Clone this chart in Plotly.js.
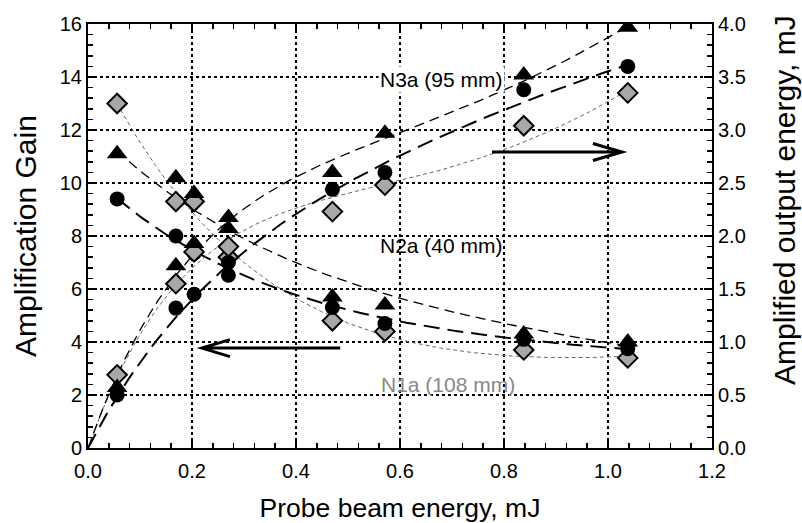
<!DOCTYPE html>
<html>
<head>
<meta charset="utf-8">
<script src="https://cdn.plot.ly/plotly-3.0.1.min.js"></script>
<style>html,body{margin:0;padding:0;background:#fff}#chart{width:802px;height:523px}</style>
</head>
<body>
<div id="chart"></div>
<script>
// Probe beam energy (mJ)
const probeEnergy = [0.056, 0.169, 0.204, 0.27, 0.47, 0.571, 0.838, 1.038];

// Amplification gain (left axis)
const gainN3a = [11.1, 10.2, 9.6, 8.7, 5.7, 5.4, 4.3, 4.0];
const gainN2a = [9.4, 8.0, 7.35, 7.0, 5.3, 4.7, 4.1, 3.75];
const gainN1a = [13.0, 9.3, 9.3, 7.2, 4.8, 4.4, 3.7, 3.4];

// Amplified output energy, mJ (right axis)
const outN3a = [0.57, 1.72, 1.93, 2.07, 2.6, 2.97, 3.52, 3.97];
const outN2a = [0.5, 1.32, 1.45, 1.63, 2.44, 2.6, 3.38, 3.6];
const outN1a = [0.69, 1.55, 1.85, 1.9, 2.23, 2.48, 3.04, 3.35];

// Series labels
const seriesLabels = ["N3a (95 mm)", "N2a (40 mm)", "N1a (108 mm)"];

const FONT = "Liberation Sans, Arial, sans-serif";

const styles = {
  N3a: {dash: "10px,6px", width: 1.3, color: "#000", marker: {symbol: "triangle-up", size: 18, color: "#000"}},
  N2a: {dash: "16px,8px", width: 2, color: "#000", marker: {symbol: "circle", size: 15, color: "#000"}},
  N1a: {dash: "4px,3px", width: 1, color: "#666", marker: {symbol: "diamond", size: 15, color: "#a8a8a8", line: {color: "#000", width: 2}}}
};

// smooth weighted least-squares trend curves through the read points
const TAU = 0.35;
const gainBasis = [t => 1, t => Math.exp(-t / TAU), t => t];
const outBasis = [t => t, t => t * Math.exp(-t / TAU), t => t * t];
const gainWeights = [8, 1, 1, 1, 1, 1, 1, 3];
const outWeights = [1, 1, 1, 1, 1, 1, 1, 3];

function lsq(x, y, w, basis) {
  const n = basis.length;
  const A = [], b = [];
  for (let i = 0; i < n; i++) { A.push(new Array(n).fill(0)); b.push(0); }
  for (let k = 0; k < x.length; k++) {
    for (let i = 0; i < n; i++) {
      const fi = basis[i](x[k]);
      b[i] += w[k] * fi * y[k];
      for (let j = 0; j < n; j++) A[i][j] += w[k] * fi * basis[j](x[k]);
    }
  }
  for (let i = 0; i < n; i++) {
    let m = i;
    for (let r = i + 1; r < n; r++) if (Math.abs(A[r][i]) > Math.abs(A[m][i])) m = r;
    [A[i], A[m]] = [A[m], A[i]]; [b[i], b[m]] = [b[m], b[i]];
    for (let r = i + 1; r < n; r++) {
      const f = A[r][i] / A[i][i];
      for (let c = i; c < n; c++) A[r][c] -= f * A[i][c];
      b[r] -= f * b[i];
    }
  }
  const coef = new Array(n).fill(0);
  for (let i = n - 1; i >= 0; i--) {
    let s = b[i];
    for (let c = i + 1; c < n; c++) s -= A[i][c] * coef[c];
    coef[i] = s / A[i][i];
  }
  return t => basis.reduce((acc, fn, i) => acc + coef[i] * fn(t), 0);
}

function fitTrace(x, y, st, axis, isOutput) {
  const f = isOutput ? lsq(x, y, outWeights, outBasis) : lsq(x, y, gainWeights, gainBasis);
  const x0 = isOutput ? 0 : x[0], x1 = x[x.length - 1];
  const xs = [], ys = [];
  for (let i = 0; i <= 120; i++) { const t = x0 + (x1 - x0) * i / 120; xs.push(t); ys.push(f(t)); }
  return {x: xs, y: ys, type: "scatter", mode: "lines", yaxis: axis,
    line: {dash: st.dash, width: st.width, color: st.color},
    hoverinfo: "skip", showlegend: false};
}
function markerTrace(x, y, st, axis) {
  return {x: x, y: y, type: "scatter", mode: "markers", yaxis: axis,
    marker: st.marker, showlegend: false};
}

const traces = [
  fitTrace(probeEnergy, gainN1a, styles.N1a, "y", false),
  fitTrace(probeEnergy, outN1a, styles.N1a, "y2", true),
  fitTrace(probeEnergy, gainN3a, styles.N3a, "y", false),
  fitTrace(probeEnergy, outN3a, styles.N3a, "y2", true),
  fitTrace(probeEnergy, gainN2a, styles.N2a, "y", false),
  fitTrace(probeEnergy, outN2a, styles.N2a, "y2", true),
  markerTrace(probeEnergy, gainN1a, styles.N1a, "y"),
  markerTrace(probeEnergy, outN1a, styles.N1a, "y2"),
  markerTrace(probeEnergy, gainN3a, styles.N3a, "y"),
  markerTrace(probeEnergy, outN3a, styles.N3a, "y2"),
  markerTrace(probeEnergy, gainN2a, styles.N2a, "y"),
  markerTrace(probeEnergy, outN2a, styles.N2a, "y2")
];

// arrows: [tailX, tipX, headBackX, y (gain units)]
const arrowRight = [0.777, 1.027, 0.971, 11.17];
const arrowLeft = [0.485, 0.219, 0.273, 3.77];
function arrowPath(a) {
  const h = 0.32;
  return "M" + a[0] + "," + a[3] + " L" + a[1] + "," + a[3] +
    " M" + a[2] + "," + (a[3] + h) + " L" + a[1] + "," + a[3] + " L" + a[2] + "," + (a[3] - h);
}

const axisCommon = {
  showline: true, linecolor: "#000", linewidth: 2,
  ticks: "inside", ticklen: 8, tickwidth: 1.5, tickcolor: "#000",
  zeroline: false,
  tickfont: {family: FONT, size: 20, color: "#000"}
};

const layout = {
  width: 802, height: 523,
  margin: {l: 88, r: 90, t: 24, b: 75},
  paper_bgcolor: "#fff", plot_bgcolor: "#fff",
  showlegend: false,
  font: {family: FONT, color: "#000"},
  xaxis: Object.assign({}, axisCommon, {
    range: [0, 1.2], dtick: 0.2, tick0: 0, tickformat: ".1f", mirror: "ticks",
    ticklabelstandoff: 4,
    showgrid: true, gridcolor: "#000", griddash: "dot", gridwidth: 1.5,
    minor: {dtick: 0.04, ticks: "inside", ticklen: 5, tickcolor: "#000", showgrid: false},
    title: {text: "Probe beam energy, mJ", font: {family: FONT, size: 26.5}, standoff: 17}
  }),
  yaxis: Object.assign({}, axisCommon, {
    range: [0, 16], dtick: 2, tick0: 0, mirror: true,
    showgrid: true, gridcolor: "#000", griddash: "dot", gridwidth: 1.5,
    minor: {dtick: 0.4, ticks: "inside", ticklen: 5, tickcolor: "#000", showgrid: false},
    title: {text: "Amplification Gain", font: {family: FONT, size: 30}, standoff: 14}
  }),
  yaxis2: Object.assign({}, axisCommon, {
    overlaying: "y", side: "right", anchor: "x",
    range: [0, 4], dtick: 0.5, tick0: 0, tickformat: ".1f",
    showgrid: false,
    minor: {dtick: 0.1, ticks: "inside", ticklen: 5, tickcolor: "#000", showgrid: false}
  }),
  annotations: [
    {x: 1.117, y: 0.585, xref: "paper", yref: "paper", text: "Amplified output energy, mJ",
     textangle: -90, showarrow: false, xanchor: "center", yanchor: "middle",
     font: {family: FONT, size: 30, color: "#000"}},
    {x: 0.679, y: 13.9, xref: "x", yref: "y", text: seriesLabels[0], showarrow: false,
     font: {family: FONT, size: 21, color: "#000"}, bgcolor: "#fff"},
    {x: 0.679, y: 7.66, xref: "x", yref: "y", text: seriesLabels[1], showarrow: false,
     font: {family: FONT, size: 21, color: "#000"}},
    {x: 0.692, y: 2.38, xref: "x", yref: "y", text: seriesLabels[2], showarrow: false,
     font: {family: FONT, size: 21, color: "#888"}}
  ],
  shapes: [
    {type: "path", xref: "x", yref: "y", path: arrowPath(arrowRight), line: {color: "#000", width: 3}},
    {type: "path", xref: "x", yref: "y", path: arrowPath(arrowLeft), line: {color: "#000", width: 3}}
  ]
};

Plotly.newPlot("chart", traces, layout, {displayModeBar: false, staticPlot: true});
</script>
</body>
</html>
